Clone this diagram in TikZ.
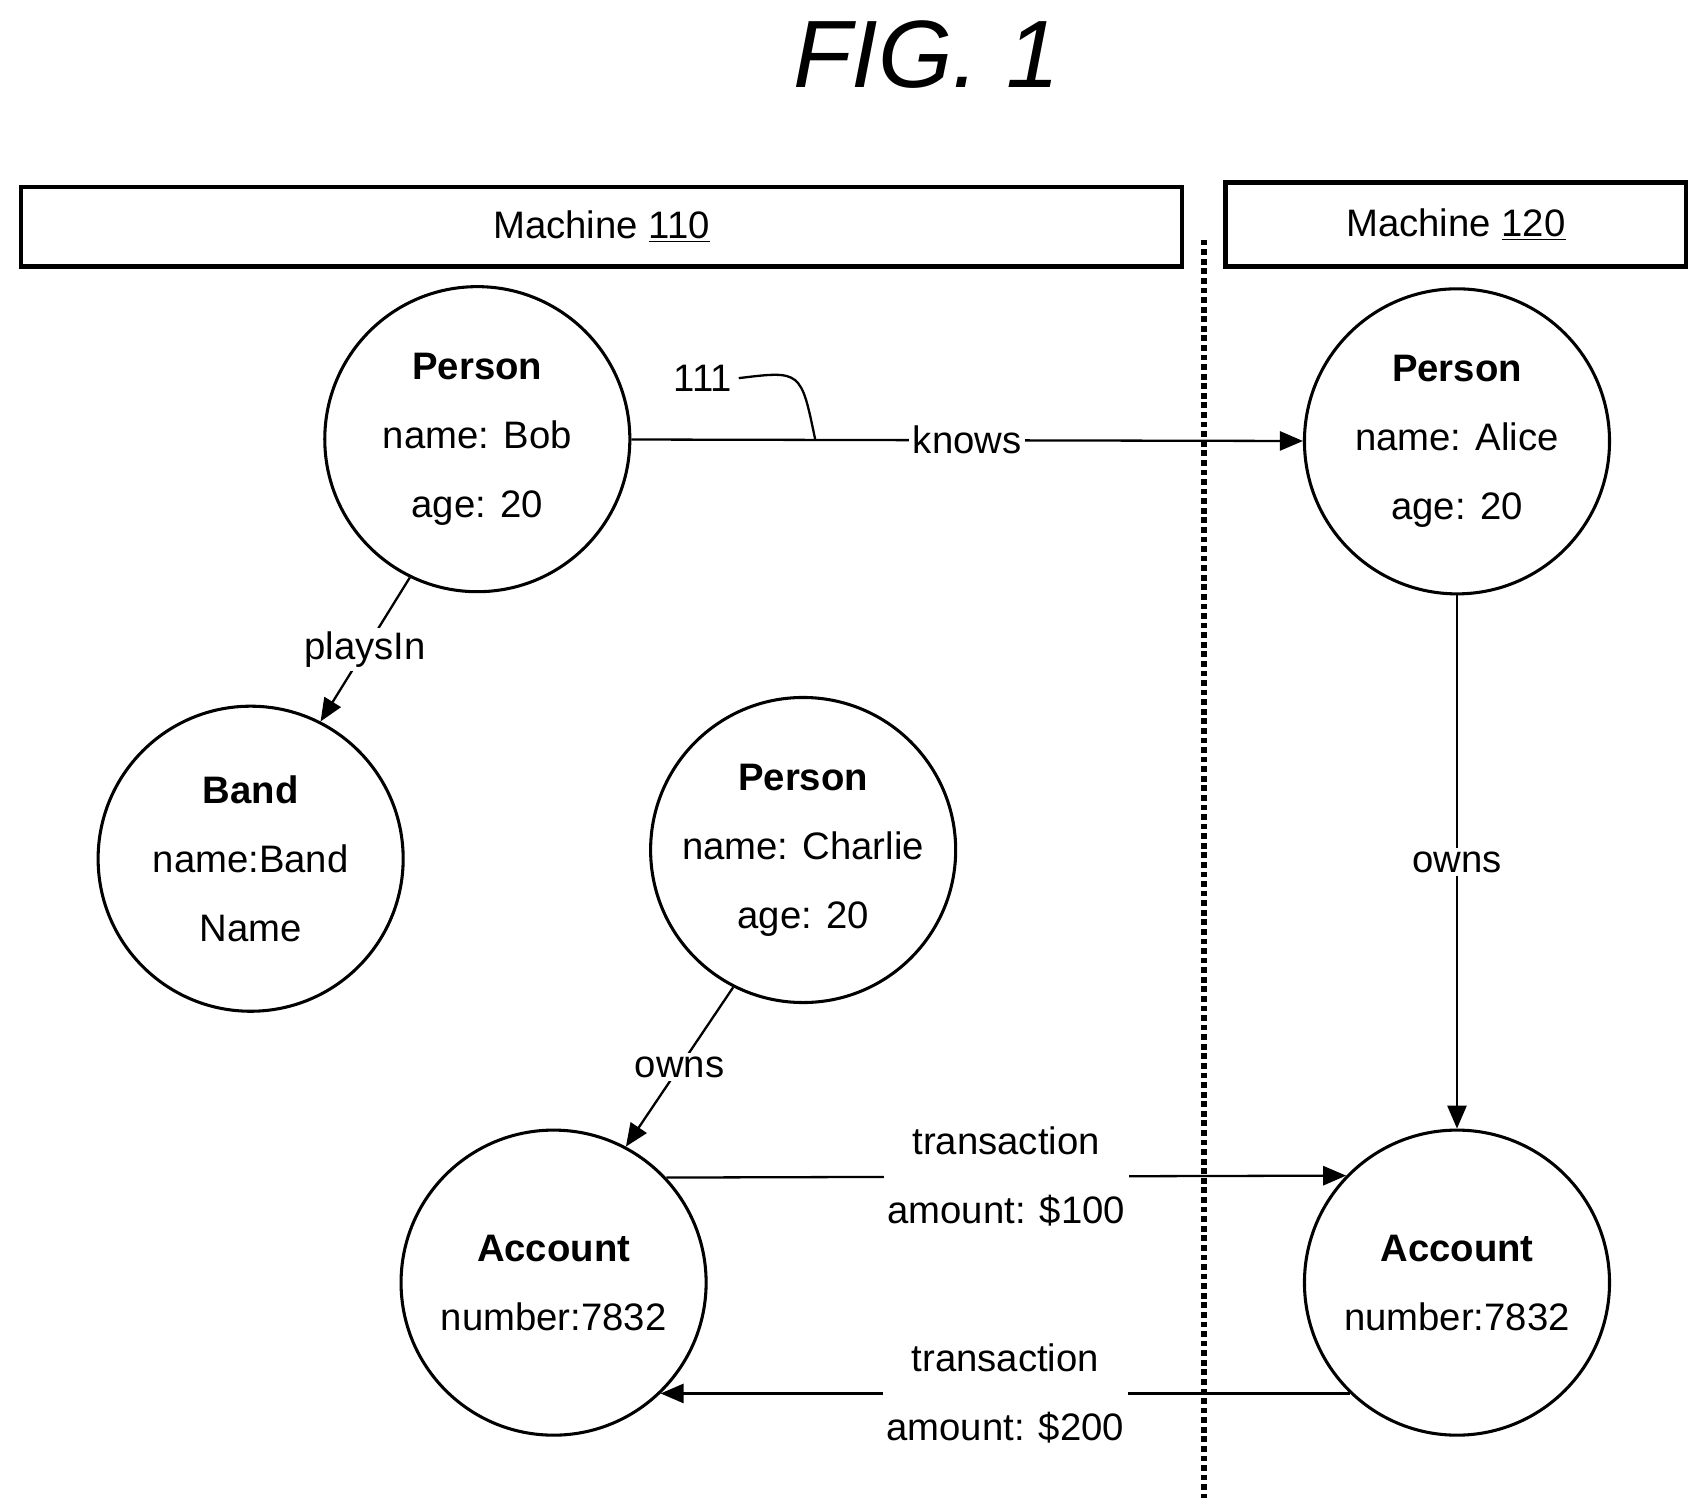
\documentclass[tikz,border=0pt]{standalone}
\usepackage{fontspec}
\setmainfont{Liberation Sans}
\usetikzlibrary{arrows.meta, positioning}

\begin{document}
\begin{tikzpicture}[
        x=0.02cm, y=-0.02cm,
        vertex/.style={circle, draw, line width=1.6pt, minimum size=5.6cm, inner sep=0pt, align=center, font=\fontsize{20}{36}\selectfont},
        machine/.style={rectangle, draw, line width=2.2pt, inner sep=0pt, font=\fontsize{20}{24}\selectfont},
        lbl/.style={fill=white, inner sep=2pt, align=center, font=\fontsize{20}{36}\selectfont},
        arrow/.style={-{Triangle[length=12pt, width=10pt]}, line width=1.2pt}
    ]
        \useasboundingbox (0,0) rectangle (1560,1386);

        % Title
        \node[font=\fontsize{50}{60}\selectfont\itshape\rmfamily] (title) at (850,50) {FIG. 1};

        % Machines
        \node[machine, minimum width=21.3cm, minimum height=1.46cm] (m110) at (552,208) {Machine \underline{110}};
        \node[machine, minimum width=8.46cm, minimum height=1.54cm] (m120) at (1336,206) {Machine \underline{120}};
        \draw[line width=3pt, dotted] (1105,220) -- (1105,1375);

        % Vertices
        \node[vertex] (bob) at (438,403) {\textbf{Person}\\name: Bob\\age: 20};
        \node[vertex] (alice) at (1337,405) {\textbf{Person}\\name: Alice\\age: 20};
        \node[vertex] (band) at (230,788) {\textbf{Band}\\name:Band\\Name};
        \node[vertex] (charlie) at (737,780) {\textbf{Person}\\name: Charlie\\age: 20};
        \node[vertex] (acc1) at (508,1177) {\textbf{Account}\\number:7832};
        \node[vertex] (acc2) at (1337,1177) {\textbf{Account}\\number:7832};

        % Edges
        \draw[arrow] (bob) -- node[lbl] {knows} (alice);
        \draw[arrow] (bob.244) -- node[lbl] {playsIn} (band.63);
        \draw[arrow] (charlie.243) -- node[lbl] {owns} (acc1.62);
        \draw[arrow] (alice) -- node[lbl] {owns} (acc2);
        \draw[arrow] (acc1.43) -- node[lbl] {transaction\\amount: \$100} (acc2.136);
        \draw[arrow] (acc2.226) -- node[lbl] {transaction\\amount: \$200} (acc1.314);

        % Reference numeral
        \node[font=\fontsize{20}{24}\selectfont] (n111) at (645,347) {111};
        \coordinate (e111) at (748,403);
        \draw[line width=1.2pt] (n111.east) .. controls (735,340) .. (e111);
\end{tikzpicture}
\end{document}
